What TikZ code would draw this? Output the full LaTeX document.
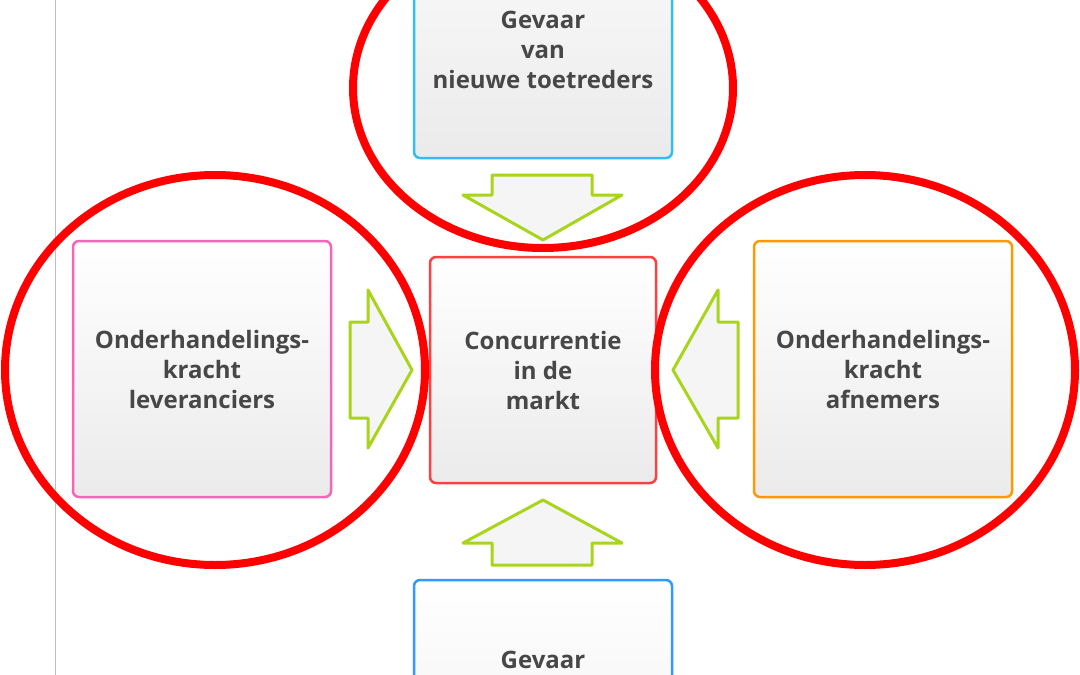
\documentclass[tikz,border=0pt]{standalone}
\usepackage{fontspec}
\setmainfont{Open Sans}
\definecolor{arrgreen}{HTML}{A8D41C}
\begin{document}
\begin{tikzpicture}[x=1pt,y=-1pt,
  txt/.style={font=\bfseries\fontsize{24}{30}\selectfont,text=black!72,align=center},
  box/.style={draw=#1,line width=2.5pt,rounded corners=6pt,top color=white,bottom color=black!8,
    minimum width=258pt,minimum height=256pt,inner sep=0pt,txt},
  arr/.style={draw=arrgreen,line width=3pt,line join=round,fill=black!4},
  ring/.style={draw=red,line width=8pt}]
\useasboundingbox (0,0) rectangle (1080,675);
\fill[white] (0,0) rectangle (1080,675);
\draw[black!25,line width=1pt] (55,0) -- (55,675);
% boxes
\node[box=cyan!80!white,minimum height=300pt] (top) at (543,8) {};
\node[txt] (toptext) at (543,50) {Gevaar\\van\\nieuwe toetreders};
\node[box=magenta!60!white] (left) at (202,369) {Onderhandelings-\\kracht\\leveranciers};
\node[box=red!75!white,minimum width=226pt,minimum height=226pt] (mid) at (543,370) {Concurrentie\\in de\\markt};
\node[box=orange!80!yellow] (right) at (883,369) {Onderhandelings-\\kracht\\afnemers};
\node[box=blue!50!cyan!80!white,minimum height=300pt] (bot) at (543,730) {};
\node[txt] (bottext) at (543,660) {Gevaar};
% arrows
\draw[arr] (492,175) -- (592,175) -- (592,195) -- (622,195) -- (543,240) -- (463,195) -- (492,195) -- cycle;
\draw[arr] (492,565) -- (592,565) -- (592,543) -- (622,543) -- (543,500) -- (463,543) -- (492,543) -- cycle;
\draw[arr] (350,322) -- (368,322) -- (368,290) -- (412,370) -- (368,448) -- (368,418) -- (350,418) -- cycle;
\draw[arr] (738,322) -- (718,322) -- (718,290) -- (673,370) -- (718,448) -- (718,418) -- (738,418) -- cycle;
% rings
\draw[ring] (543,88) ellipse [x radius=190, y radius=160];
\draw[ring] (215,370) ellipse [x radius=210, y radius=195];
\draw[ring] (865,370) ellipse [x radius=210, y radius=195];
\end{tikzpicture}
\end{document}
